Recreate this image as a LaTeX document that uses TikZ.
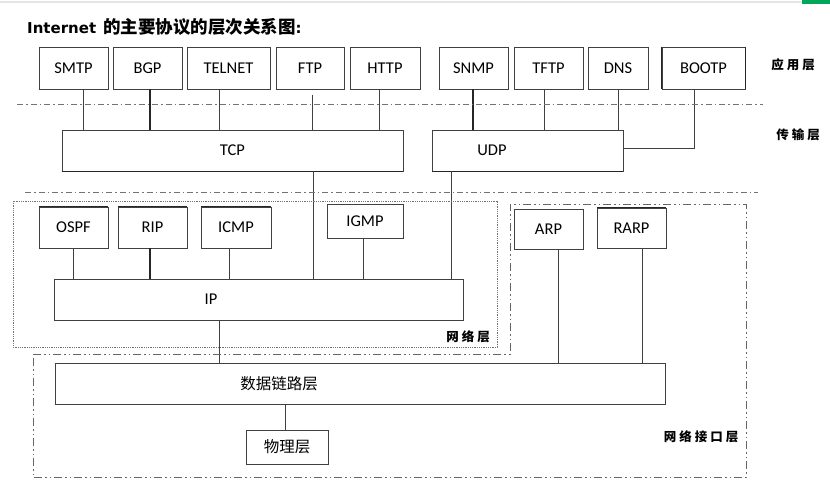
\documentclass[tikz,border=0pt]{standalone}
\usepackage{fontspec}
\setmainfont{Carlito}
\newfontfamily\cjk{Noto Sans CJK SC}
\newfontfamily\dejab{DejaVu Sans}
\begin{document}
\begin{tikzpicture}[x=1pt,y=-1pt,
  box/.style={draw=black!75,line width=0.8pt,inner sep=0pt,font=\fontsize{16.5}{18}\selectfont},
  conn/.style={draw=black!75,line width=0.8pt},
  thickconn/.style={draw=black!85,line width=1.6pt},
  layerline/.style={draw=black!55,line width=0.9pt,dash pattern=on 6pt off 3pt on 1.5pt off 3pt},
  netbox/.style={draw=black!55,line width=0.8pt,dash pattern=on 1pt off 0.8pt},
  ifbox/.style={draw=black!60,line width=1pt,dash pattern=on 8pt off 3pt on 1.5pt off 3pt on 1.5pt off 3pt},
  layerlbl/.style={font=\cjk\bfseries\fontsize{12.5}{14}\selectfont,inner sep=0pt},
  plain/.style={font=\fontsize{16.5}{18}\selectfont,inner sep=0pt},
  cjkbox/.style={box,font=\cjk\fontsize{15.5}{18}\selectfont}
]
\useasboundingbox (0,0) rectangle (830,495);
% screen top edge
\fill[black!10] (0,1) rectangle (830,3.5);
\fill[teal!70!green] (802,0) rectangle (830,4);
% title
\node[anchor=west,inner sep=0pt] (title) at (27,27)
  {{\dejab\bfseries\fontsize{15}{18}\selectfont Internet}\hspace{7pt}{\cjk\bfseries\fontsize{17.5}{18}\selectfont 的主要协议的层次关系图}{\dejab\bfseries\fontsize{15}{18}\selectfont :}};
% application layer
\node[box,minimum width=69pt,minimum height=42pt] (smtp) at (73.5,68) {SMTP};
\node[box,minimum width=69pt,minimum height=42pt] (bgp) at (147.5,68) {BGP};
\node[box,minimum width=83pt,minimum height=42pt] (telnet) at (228.5,68) {TELNET};
\node[box,minimum width=68pt,minimum height=42pt] (ftp) at (310,68) {FTP};
\node[box,minimum width=70pt,minimum height=42pt] (http) at (385,68) {HTTP};
\node[box,minimum width=69pt,minimum height=42pt] (snmp) at (473.5,68) {SNMP};
\node[box,minimum width=69pt,minimum height=42pt] (tftp) at (548.5,68) {TFTP};
\node[box,minimum width=60pt,minimum height=42pt] (dns) at (618,68) {DNS};
\node[box,minimum width=83pt,minimum height=42pt] (bootp) at (703.5,68) {BOOTP};
% transport layer
\node[box,minimum width=341pt,minimum height=41pt] (tcp) at (232.5,150.5) {TCP};
\node[box,minimum width=191pt,minimum height=41pt] (udp) at (527.5,150.5) {};
\node[plain] (udpt) at (492,150.5) {UDP};
% network layer
\node[box,minimum width=69pt,minimum height=41pt] (ospf) at (73.5,227.5) {OSPF};
\node[box,minimum width=69pt,minimum height=41pt] (rip) at (152.5,227.5) {RIP};
\node[box,minimum width=70pt,minimum height=41pt] (icmp) at (236,227.5) {ICMP};
\node[box,minimum width=76pt,minimum height=34pt] (igmp) at (365,221) {IGMP};
\node[box,minimum width=409pt,minimum height=41pt] (ip) at (258.5,299.5) {};
\node[plain] (ipt) at (211,299.5) {IP};
% interface layer
\node[box,minimum width=69pt,minimum height=40pt] (arp) at (548.5,229) {ARP};
\node[box,minimum width=69pt,minimum height=40pt] (rarp) at (631.5,228) {RARP};
\node[box,minimum width=610pt,minimum height=41pt] (dl) at (360,383.5) {};
\node[font=\cjk\fontsize{15.5}{18}\selectfont,inner sep=0pt] (dlt) at (279,383.5) {数据链路层};
\node[cjkbox,minimum width=82pt,minimum height=34pt] (phy) at (287,447) {物理层};
% thick edges
\draw[thickconn] (tcp.south west) -- (tcp.south east);
\draw[thickconn] (udp.south west) -- (udp.south east);
\draw[thickconn] (ospf.north west) -- (ospf.north east);
\draw[thickconn] (rip.north west) -- (rip.north east);
\draw[thickconn] (icmp.north west) -- (icmp.north east);
\draw[thickconn] (rarp.north west) -- (rarp.north east);
\draw[thickconn] (bootp.north west) -- (bootp.south west);
\draw[thickconn] (bootp.north east) -- (bootp.south east);
% app -> transport
\draw[conn] ([xshift=9.5pt]smtp.south) -- ([xshift=9.5pt]smtp.south |- tcp.north);
\draw[thickconn,line width=1.4pt] ([xshift=2.5pt]bgp.south) -- ([xshift=2.5pt]bgp.south |- tcp.north);
\draw[conn] ([xshift=-9.5pt]telnet.south) -- ([xshift=-9.5pt]telnet.south |- tcp.north);
\draw[conn] ([xshift=2pt,yshift=-6pt]ftp.south) -- ([xshift=2pt]ftp.south |- tcp.north);
\draw[conn] ([xshift=-6pt]http.south) -- ([xshift=-6pt]http.south |- tcp.north);
\draw[thickconn,line width=1.4pt] ([xshift=-0.5pt]snmp.south) -- ([xshift=-0.5pt]snmp.south |- udp.north);
\draw[conn] ([xshift=-4.5pt]tftp.south) -- ([xshift=-4.5pt]tftp.south |- udp.north);
\draw[conn] (dns.south) -- (dns.south |- udp.north);
\draw[conn] ([xshift=-9.5pt]bootp.south) -- ([xshift=-9.5pt,yshift=2pt]bootp.south |- udp.east) -- ([yshift=2pt]udp.east);
% transport -> ip
\draw[conn] ([xshift=80.5pt]tcp.south) -- ([xshift=80.5pt]tcp.south |- ip.north);
\draw[conn] ([xshift=-76.5pt]udp.south) -- ([xshift=-76.5pt]udp.south |- ip.north);
% network protocols -> ip
\draw[conn] (ospf.south) -- (ospf.south |- ip.north);
\draw[thickconn,line width=1.4pt] ([xshift=-2.5pt]rip.south) -- ([xshift=-2.5pt]rip.south |- ip.north);
\draw[conn] ([xshift=-7pt]icmp.south) -- ([xshift=-7pt]icmp.south |- ip.north);
\draw[conn] ([xshift=-2pt]igmp.south) -- ([xshift=-2pt]igmp.south |- ip.north);
% -> data link
\draw[conn] ([xshift=-39.5pt]ip.south) -- ([xshift=-39.5pt]ip.south |- dl.north);
\draw[conn] ([xshift=9.5pt]arp.south) -- ([xshift=9.5pt]arp.south |- dl.north);
\draw[conn] ([xshift=10.5pt]rarp.south) -- ([xshift=10.5pt]rarp.south |- dl.north);
\draw[conn] ([xshift=-2pt]phy.north) -- ([xshift=-2pt]phy.north |- dl.south);
% layer separators
\draw[layerline] (17,104) -- (763,104);
\draw[layerline] (25,192) -- (758,192);
% network layer box
\draw[netbox] (13,201) rectangle (497,347);
% interface layer box
\draw[ifbox] (33,354) -- (510,354) -- (510,204) -- (746,204) -- (746,477) -- (33,477) -- cycle;
% layer labels
\node[layerlbl] (lapp) at (793,65) {应\hspace{3pt}用\hspace{3pt}层};
\node[layerlbl] (ltrans) at (798,135) {传\hspace{3pt}输\hspace{3pt}层};
\node[layerlbl] (lnet) at (468,337) {网\hspace{3pt}络\hspace{3pt}层};
\node[layerlbl] (lif) at (701,437) {网\hspace{3pt}络\hspace{3pt}接\hspace{3pt}口\hspace{3pt}层};
\end{tikzpicture}
\end{document}
